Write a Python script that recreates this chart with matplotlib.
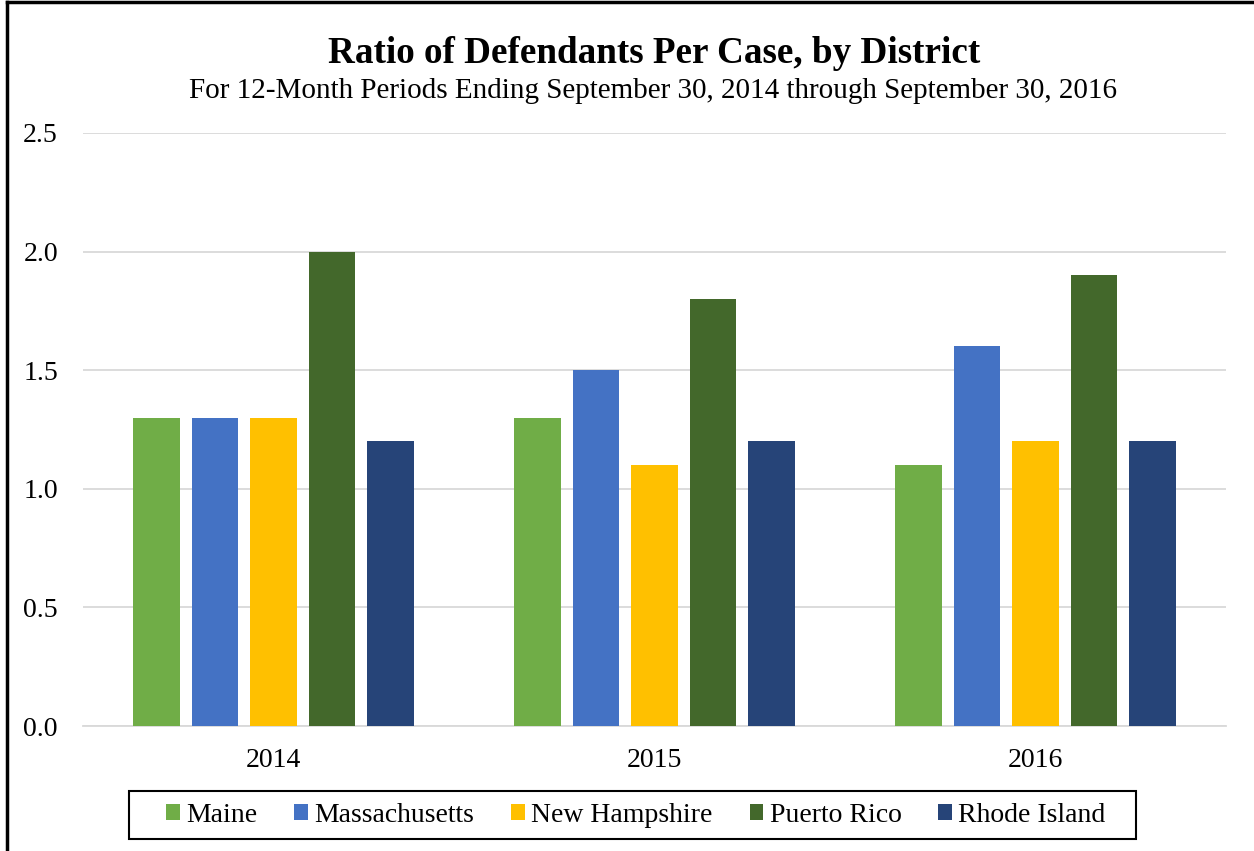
import matplotlib
matplotlib.use("Agg")
import matplotlib.pyplot as plt
from matplotlib.lines import Line2D
from matplotlib.patches import Rectangle
import numpy as np

years = ["2014", "2015", "2016"]
districts = ["Maine", "Massachusetts", "New Hampshire", "Puerto Rico", "Rhode Island"]
maine = [1.3, 1.3, 1.1]
massachusetts = [1.3, 1.5, 1.6]
new_hampshire = [1.3, 1.1, 1.2]
puerto_rico = [2.0, 1.8, 1.9]
rhode_island = [1.2, 1.2, 1.2]
series = [maine, massachusetts, new_hampshire, puerto_rico, rhode_island]
colors = ["#70AD47", "#4472C4", "#FFC000", "#43682B", "#264478"]
yticks = [0.0, 0.5, 1.0, 1.5, 2.0, 2.5]

plt.rcParams['font.family'] = ['Liberation Serif', 'DejaVu Serif']

W, H = 1254, 851
fig = plt.figure(figsize=(W/100, H/100), dpi=100)
ax = fig.add_axes([83/W, 1-726/H, (1226-83)/W, (726-133)/H])

x = np.arange(len(years))
step = 0.1535
bw = 0.121
for i, (vals, c, name) in enumerate(zip(series, colors, districts)):
    ax.bar(x + (i-2)*step, vals, width=bw, color=c, label=name, zorder=3)

ax.set_xlim(-0.5, 2.5)
ax.set_ylim(0, 2.5)
ax.set_yticks(yticks)
ax.set_yticklabels([f"{v:.1f}" for v in yticks], fontsize=20)
ax.set_xticks(x)
ax.set_xticklabels(years, fontsize=20)
ax.tick_params(axis='x', length=0, pad=16)
ax.tick_params(axis='y', length=0, pad=18)
ax.grid(axis='y', color='#d9d9d9', linewidth=1.3, zorder=0)
for s in ['top', 'right', 'left']:
    ax.spines[s].set_visible(False)
ax.spines['bottom'].set_color('#d9d9d9')
ax.spines['bottom'].set_linewidth(1.3)

fig.text(654/W, 1-63/H, "Ratio of Defendants Per Case, by District", ha='center', va='baseline',
         fontsize=26.7, fontweight='bold')
fig.text(653/W, 1-98/H, "For 12-Month Periods Ending September 30, 2014 through September 30, 2016",
         ha='center', va='baseline', fontsize=21)

leg = fig.legend(loc='center', bbox_to_anchor=(636/W, 1-815/H), ncol=5, fontsize=20,
                 frameon=False, handlelength=0.5, handleheight=0.5,
                 handletextpad=0.22, columnspacing=1.33, borderpad=0.0)

fig.add_artist(Rectangle((129/W, 1-839/H), (1136-129)/W, (839-791)/H, transform=fig.transFigure,
                         fill=False, edgecolor='black', linewidth=1.5))

# outer frame lines (left and top)
fig.add_artist(Line2D([7/W, 7/W], [0, 1-2/H], color='black', linewidth=2.5, transform=fig.transFigure))
fig.add_artist(Line2D([7/W, 1], [1-2/H, 1-2/H], color='black', linewidth=2.5, transform=fig.transFigure))

fig.savefig("out.png", dpi=100)
